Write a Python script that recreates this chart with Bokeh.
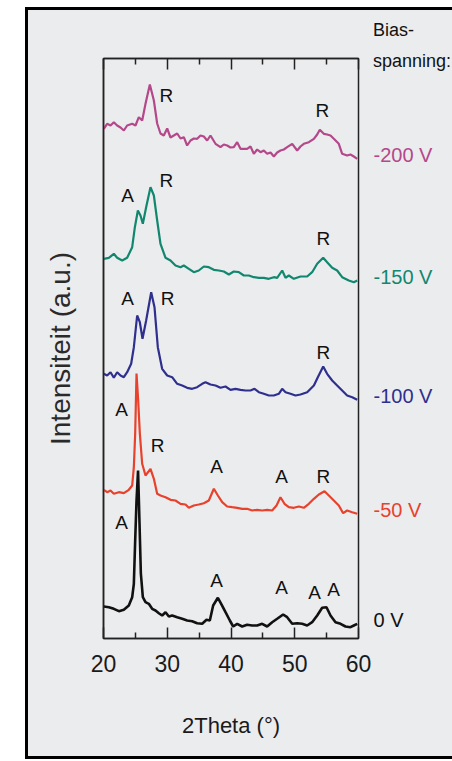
from bokeh.plotting import figure
from bokeh.models import Range1d, FixedTicker, LinearAxis
from bokeh.layouts import row
from bokeh.core.properties import value
from bokeh.embed import file_html
from bokeh.resources import INLINE

# ---------------- data ----------------
series_names = ["-200 V", "-150 V", "-100 V", "-50 V", "0 V"]
series_colors = ["#b4488a", "#10876e", "#2f2f8e", "#e8412c", "#111111"]

theta_200 = [20.05, 20.57, 21.1, 21.62, 22.14, 22.67, 23.19, 23.71, 24.5, 25.02, 25.54, 26.07, 26.59, 27.27,
             27.9, 28.42, 28.94, 29.46, 29.99, 30.51, 31.03, 31.56, 32.08, 32.6, 33.12, 33.65, 34.17, 34.69,
             35.22, 35.74, 36.26, 36.78, 37.57, 38.35, 38.87, 39.4, 39.92, 40.44, 40.97, 41.49, 42.53, 43.06,
             43.58, 44.1, 44.63, 45.15, 45.67, 46.2, 46.72, 47.24, 47.76, 48.29, 48.81, 49.6, 50.38, 50.9,
             51.42, 52.21, 53.0, 53.52, 53.93, 54.56, 55.08, 55.61, 56.13, 56.91, 57.44, 58.22, 58.74, 59.27, 59.8]
int_200 = [509.7, 514.7, 513, 516.3, 513, 511, 508, 513, 514.7, 513, 521.3, 518, 534.7, 554,
           538, 515, 505, 503, 510, 501, 503, 505, 500, 501.3, 493, 498, 500, 499.7,
           503, 502, 498, 503, 494.7, 491.3, 494, 493, 491, 491.3, 496.3, 489.7, 489.7, 492,
           484.7, 489, 486.3, 488, 484.7, 486, 482, 486, 488, 489, 491.3, 494.7, 488, 492,
           494.7, 496.3, 499.7, 504, 508.7, 504.7, 504, 503, 499.7, 494.7, 484.7, 483, 484, 482, 479.7]

theta_150 = [20.05, 20.84, 21.62, 22.14, 22.93, 23.71, 24.5, 24.92, 25.39, 25.8, 26.17, 26.69, 27.37, 27.9,
             28.42, 28.94, 29.73, 30.51, 31.29, 32.08, 32.6, 33.39, 34.17, 34.95, 35.74, 36.52, 37.31, 38.09,
             38.88, 39.66, 40.44, 41.23, 42.01, 42.8, 43.58, 44.37, 45.15, 45.93, 46.72, 47.24, 48.03, 48.55,
             49.07, 49.86, 50.9, 51.95, 52.73, 53.52, 54.46, 55.08, 55.87, 56.65, 57.44, 58.48, 59.27, 59.8]
int_150 = [379.7, 380.7, 384.7, 380.7, 378, 380.7, 391.3, 411.3, 428, 423, 414.7, 431.3, 451.3, 443,
           418, 394.7, 380.7, 378, 373, 371.3, 373, 369.7, 366.3, 368, 372, 371.3, 368.7, 368,
           367, 364, 367, 366.3, 363, 363, 361.3, 360.7, 360.7, 359.7, 361.3, 360.7, 368, 360.7,
           363, 359.7, 362, 362, 366.3, 374.7, 380.7, 376.3, 370.7, 368, 361.3, 358, 356.3, 358]

theta_100 = [20.05, 20.57, 21.1, 21.62, 22.14, 22.67, 23.19, 23.71, 24.34, 24.76, 25.28, 25.7, 26.12, 26.69,
             27.48, 28.0, 28.52, 29.2, 29.99, 30.77, 31.56, 32.34, 33.12, 33.91, 34.69, 35.48, 36.0, 36.78,
             37.57, 38.35, 39.14, 39.92, 40.71, 41.49, 42.27, 43.06, 43.69, 44.37, 45.15, 45.93, 46.72, 47.5,
             48.03, 48.55, 49.33, 50.12, 50.9, 51.95, 53.0, 53.62, 54.46, 55.08, 55.87, 56.65, 57.44, 58.22,
             59.01, 59.8]
int_100 = [264.7, 263, 266.3, 260.7, 266.3, 263, 261.3, 266.3, 274.7, 291.3, 323, 316.3, 299.7, 318,
           346.3, 331.3, 291.3, 269.7, 263, 261.3, 254.7, 253, 250.7, 249.7, 251.3, 254.7, 256.3, 254,
           253, 250.7, 252, 248.7, 249.7, 248.7, 248, 248, 249.7, 246.3, 244.7, 243, 243, 244.7,
           249.7, 246.3, 244.7, 243, 244, 246.3, 253, 261.3, 272, 264.7, 258, 253, 248, 243,
           241.3, 238.7]

theta_50 = [20.05, 20.57, 21.1, 21.62, 22.41, 23.19, 23.97, 24.5, 24.76, 24.97, 25.18, 25.44, 25.7, 26.07,
            26.59, 27.37, 27.9, 28.42, 28.94, 29.73, 30.51, 31.29, 32.08, 32.86, 33.39, 34.17, 34.95, 35.74,
            36.52, 37.31, 37.94, 38.62, 39.4, 40.18, 40.97, 41.75, 42.53, 43.32, 44.1, 44.89, 45.67, 46.46,
            47.14, 47.76, 48.39, 49.07, 49.86, 50.64, 51.42, 52.21, 53.0, 53.78, 54.67, 55.35, 56.13, 56.91,
            57.59, 58.22, 59.01, 59.8]
int_50 = [148.7, 146.3, 148, 144.7, 146.3, 145.3, 148.7, 153, 171.3, 204.7, 265, 238, 205, 174.7,
          163, 169.7, 159.7, 144.7, 143, 141.3, 138.7, 138, 134.7, 134, 130.7, 133, 134, 135.3,
          138, 149.7, 143, 136.3, 132, 131.3, 130.7, 129.7, 129.7, 128, 128.7, 128, 128.7, 128,
          133, 141.3, 134.7, 131.3, 130.7, 132, 130.7, 134.7, 139.7, 144, 147.3, 143, 138, 133,
          125.3, 128, 126.3, 124.7]

theta_0 = [20.05, 20.84, 21.62, 22.41, 23.19, 23.97, 24.5, 24.76, 24.97, 25.18, 25.42, 25.65, 25.86, 26.17,
           26.59, 27.11, 27.63, 28.16, 28.68, 29.2, 29.73, 30.25, 30.77, 31.56, 32.34, 33.12, 33.91, 34.69,
           35.48, 36.16, 36.68, 37.2, 37.94, 38.46, 39.14, 39.82, 40.34, 40.97, 41.75, 42.53, 43.32, 44.1,
           44.89, 45.67, 46.46, 47.24, 48.18, 48.81, 49.6, 50.38, 51.16, 51.95, 52.73, 53.52, 54.3, 54.98,
           55.61, 56.39, 57.18, 57.96, 58.74, 59.27, 59.8]
int_0 = [32, 31.3, 29.7, 27.3, 28.7, 33, 41.3, 54.7, 98, 138, 168, 115, 65, 41.3,
         36.3, 34.7, 29.7, 28, 25.3, 23, 26.3, 22, 23, 21.3, 19.7, 18, 17.3, 15.3,
         14.7, 18.7, 18, 33, 40.7, 34.7, 26.3, 18, 12, 14.7, 12, 13.7, 13, 13,
         14.7, 12, 16.3, 19.7, 24, 21.3, 14.7, 15.3, 14.7, 13, 16.3, 23, 30.7, 31.3,
         23, 16.3, 14.7, 12, 11.3, 13, 14.7]

series_theta = [theta_200, theta_150, theta_100, theta_50, theta_0]
series_int = [int_200, int_150, int_100, int_50, int_0]

# phase markers (A = anatase, R = rutile): letter, 2theta, height
ann_text = ["R", "R", "A", "R", "R", "A", "R", "R", "A", "R", "A", "A", "R", "A", "A", "A", "A", "A"]
ann_theta = [29.88, 54.35, 23.76, 29.88, 54.5, 23.76, 30.04, 54.5, 22.82, 28.47, 37.73, 47.92, 54.5,
             22.82, 37.73, 47.92, 53.1, 56.08]
ann_height = [543, 528, 443, 458, 400, 340, 340, 286, 229, 193, 172, 162, 162, 116, 58, 51, 46, 49]

x_ticks = [20, 30, 40, 50, 60]
x_minor_ticks = [25, 35, 45, 55]

header_lines = ["Bias-", "spanning:"]
header_heights = [609, 578]

FONT = "Liberation Sans"
INK = "#1a1a1a"
PX_PER_DEG = 6.375          # horizontal scale of the main frame (255 px for 40 degrees)

# ---------------- main plot ----------------
p = figure(width=347, height=752, output_backend="svg", toolbar_location=None,
           x_range=Range1d(20, 60), y_range=Range1d(0, 580),
           x_axis_location=None, y_axis_location=None,
           min_border_left=78, min_border_right=14, min_border_top=51, min_border_bottom=121)
p.frame_align = False
p.border_fill_color = None
p.background_fill_color = None
p.outline_line_color = "#222222"
p.outline_line_width = 1.5
p.xgrid.visible = False
p.ygrid.visible = False

xb = LinearAxis(ticker=FixedTicker(ticks=x_ticks, minor_ticks=x_minor_ticks),
                axis_label="2Theta (°)")
xt = LinearAxis(ticker=FixedTicker(ticks=x_ticks, minor_ticks=x_minor_ticks))
for ax in (xb, xt):
    ax.axis_line_color = "#222222"
    ax.axis_line_width = 1.5
    ax.major_tick_in = 11
    ax.major_tick_out = 0
    ax.minor_tick_in = 6
    ax.minor_tick_out = 0
    ax.major_tick_line_color = "#222222"
    ax.major_tick_line_width = 1.5
    ax.minor_tick_line_color = "#222222"
    ax.minor_tick_line_width = 1.5
xb.major_label_text_font = FONT
xb.major_label_text_font_size = "23px"
xb.major_label_text_color = INK
xb.major_label_standoff = 16
xb.axis_label_text_font = FONT
xb.axis_label_text_font_size = "22px"
xb.axis_label_text_font_style = "normal"
xb.axis_label_text_color = INK
xb.axis_label_standoff = 38
xt.major_label_overrides = {t: "" for t in x_ticks}
xt.major_label_text_color = None
xt.major_label_standoff = 0
p.add_layout(xb, "below")
p.add_layout(xt, "above")

yl = LinearAxis(ticker=FixedTicker(ticks=[]), axis_label="Intensiteit (a.u.)")
yl.axis_line_color = "#222222"
yl.axis_line_width = 1.5
yl.major_tick_line_color = None
yl.minor_tick_line_color = None
yl.axis_label_text_font = FONT
yl.axis_label_text_font_size = "28px"
yl.axis_label_text_font_style = "normal"
yl.axis_label_text_color = "#2a2a2a"
yl.axis_label_standoff = 28
p.add_layout(yl, "left")

for th, it, c, name in zip(series_theta, series_int, series_colors, series_names):
    p.line(th, it, line_color=c, line_width=2.6 if name == "0 V" else 2.2)

p.text(x=ann_theta, y=ann_height, text=ann_text, text_font=value(FONT), text_font_size="19px",
       text_align="center", text_baseline="middle", text_color="#111111")

# ---------------- right-hand label strip (same scales, frame reaches up to the panel top) ----------------
q = figure(width=80, height=752, output_backend="svg", toolbar_location=None,
           x_range=Range1d(60 + 14 / PX_PER_DEG, 60 + 94 / PX_PER_DEG), y_range=Range1d(0, 628),
           x_axis_location=None, y_axis_location=None,
           min_border_left=0, min_border_right=0, min_border_top=3, min_border_bottom=121)
q.frame_align = False
q.border_fill_color = None
q.background_fill_color = None
q.outline_line_color = None
q.xgrid.visible = False
q.ygrid.visible = False

end_levels = [it[-1] + 4 for it in series_int]
q.text(x=[60 + 15 / PX_PER_DEG] * len(series_names), y=end_levels, text=series_names,
       text_color=series_colors, text_font=value(FONT), text_font_size="20px",
       text_baseline="middle", text_align="left")
q.text(x=[60 + 14.5 / PX_PER_DEG] * len(header_lines), y=header_heights, text=header_lines,
       text_color="#111111", text_font=value(FONT), text_font_size="18px",
       text_baseline="alphabetic", text_align="left")

layout = row(p, q)
layout.margin = (7, 0, 2, 25)
layout.styles = {"background-color": "#ebecee",
                 "box-shadow": "inset 3px 3px 0 0 #000000, inset 0 -3px 0 0 #000000"}

open("out.html", "w").write(file_html(layout, INLINE))
